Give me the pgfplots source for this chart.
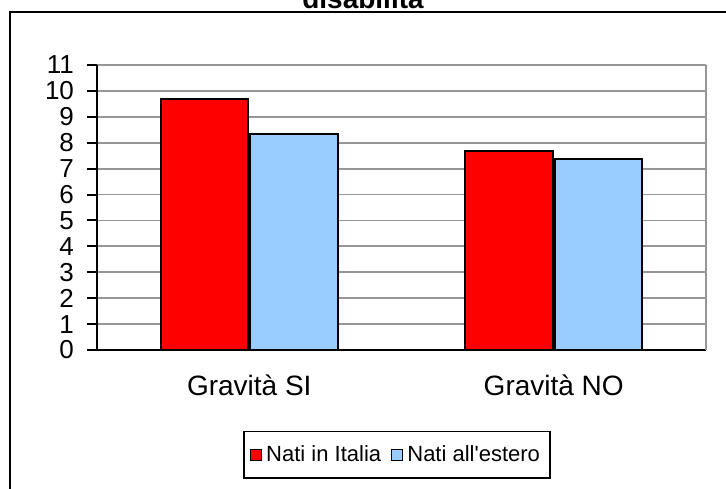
\documentclass[border=0pt]{standalone}
\usepackage{pgfplots}
\pgfplotsset{compat=1.18}
\usepackage{fontspec}
\setmainfont{Liberation Sans}
\definecolor{barred}{RGB}{255,0,0}
\definecolor{barblue}{RGB}{153,204,255}
\definecolor{gridgray}{RGB}{150,150,150}
\begin{document}
\begin{tikzpicture}
  \path[use as bounding box, clip] (0,0) rectangle (363pt,244pt);
  % outer chart frame (right and bottom edges lie outside the page)
  \draw[line width=1pt] (5pt,-10pt) rectangle (380pt,238pt);
  \node[anchor=base, font=\fontsize{14}{16}\selectfont\bfseries] at (181.5pt,239.5pt) {disabilità};
  \begin{axis}[
    at={(48.5pt,69pt)}, anchor=south west,
    scale only axis,
    width=304.5pt, height=142.5pt,
    xmin=-0.5, xmax=1.5,
    ymin=0, ymax=11,
    ytick={0,1,...,11},
    xtick={0,1},
    xticklabels={Gravità SI, Gravità NO},
    axis x line*=bottom, axis y line*=left,
    axis line style={line width=1pt, black},
    x axis line style={-}, y axis line style={-},
    tick align=outside,
    major tick length=5pt,
    tick style={line width=1pt, black},
    x tick style={draw=none},
    extra x ticks={-0.5,0.5,1.5},
    extra x tick labels={},
    extra x tick style={tick style={draw=black, line width=1pt}, major tick length=4pt, grid=none},
    ymajorgrids=true,
    grid style={line width=0.9pt, gridgray},
    yticklabel style={font=\fontsize{13}{15}\selectfont, xshift=-3pt},
    xticklabel style={font=\fontsize{14}{16}\selectfont, yshift=-4pt},
    /pgf/number format/assume math mode=true,
    bar width=0.288,
    legend columns=2,
    legend style={at={(0.4926,-0.368)}, anchor=center, draw=black, line width=0.9pt,
      font=\fontsize{11}{13}\selectfont, inner xsep=3pt, inner ysep=5pt,
      /tikz/every even column/.append style={column sep=3pt}},
    legend image code/.code={\draw[#1, line width=0.6pt] (0pt,-2.75pt) rectangle (5.5pt,2.75pt);},
  ]
    \addplot[ybar, bar shift=-0.147, draw=black, line width=1pt, fill=barred]
      coordinates {(0,9.70) (1,7.69)};
    \addlegendentry{Nati in Italia}
    \addplot[ybar, bar shift=0.147, draw=black, line width=1pt, fill=barblue]
      coordinates {(0,8.32) (1,7.37)};
    \addlegendentry{Nati all\textquotesingle estero}
  \end{axis}
  \draw[gridgray, line width=0.9pt] (353pt,69pt) -- (353pt,211.5pt);
\end{tikzpicture}
\end{document}
